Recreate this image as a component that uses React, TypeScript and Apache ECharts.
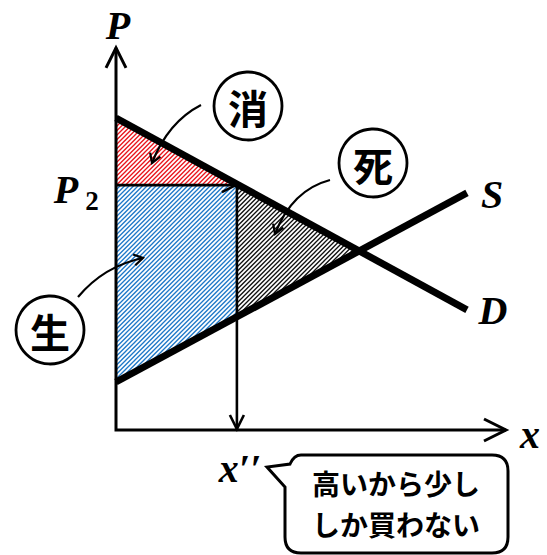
import { useEffect, useRef } from "react";
import * as echarts from "echarts";

// ---- data (value space: x 0..10, y 0..10) ----
const axisRangeX = [0, 10];
const axisRangeY = [0, 10];
const axisTips = [10, 9.8]; // x-axis arrow tip (x), y-axis arrow tip (y)
const demandLine = [
  [0, 8.0],
  [9.0, 3.08],
];
const supplyLine = [
  [0, 1.23],
  [9.0, 6.08],
];
const priceP2 = 6.28;
const quantityX2 = 3.1;
const supplyAtX2 = 2.9;
const equilibrium = [6.28, 4.59];
const consumerSurplus = [
  [0, 8.0],
  [0, priceP2],
  [quantityX2, priceP2],
];
const producerSurplus = [
  [0, priceP2],
  [quantityX2, priceP2],
  [quantityX2, supplyAtX2],
  [0, 1.23],
];
const deadweightLoss = [
  [quantityX2, priceP2],
  equilibrium,
  [quantityX2, supplyAtX2],
];
const regionPolys = [consumerSurplus, producerSurplus, deadweightLoss];
const regionColors = ["#e8151c", "#1f78c8", "#111111"];
const circleLabels = ["消", "死", "生"];
const bubbleLines = ["高いから少し", "しか買わない"];

const MATH_FONT = "'Liberation Serif', 'DejaVu Serif', serif";
const CJK_FONT = "'Noto Sans CJK JP', 'Noto Sans', sans-serif";

const BUBBLE_D =
  "M 290 464 Q 294 455 301 455 L 492 455 Q 508 455 508 471 L 508 537 Q 508 553 492 553 L 301 553 Q 285 553 285 537 L 285 487 L 267 467 Z";

let registered = false;
function ensureShapes() {
  if (registered) return;
  echarts.graphic.registerShape("bubble", echarts.graphic.extendPath(BUBBLE_D, {}) as any);
  registered = true;
}

function chevron(tip: number[], from: number[], back: number, side: number) {
  const dx = tip[0] - from[0];
  const dy = tip[1] - from[1];
  const len = Math.hypot(dx, dy) || 1;
  const ux = dx / len;
  const uy = dy / len;
  const bx = tip[0] - ux * back;
  const by = tip[1] - uy * back;
  return [
    [bx - uy * side, by + ux * side],
    [tip[0], tip[1]],
    [bx + uy * side, by - ux * side],
  ];
}

function makeHatch(color: string) {
  const n = 9;
  const c = document.createElement("canvas");
  c.width = n;
  c.height = n;
  const ctx = c.getContext("2d")!;
  ctx.fillStyle = "#ffffff";
  ctx.fillRect(0, 0, n, n);
  ctx.strokeStyle = color;
  ctx.lineWidth = 1.35;
  ctx.beginPath();
  for (const k of [0, 4.5, 9, 13.5, 18]) {
    ctx.moveTo(k + 2, -2);
    ctx.lineTo(k - n - 2, n + 2);
  }
  ctx.stroke();
  return { image: c.toDataURL(), repeat: "repeat", imageWidth: n, imageHeight: n };
}

function curvedArrow(start: number[], ctrl: number[], end: number[]) {
  return [
    {
      type: "bezierCurve",
      z: 100,
      shape: { x1: start[0], y1: start[1], cpx1: ctrl[0], cpy1: ctrl[1], x2: end[0], y2: end[1] },
      style: { stroke: "#000", lineWidth: 2.2, fill: "none" },
    },
    {
      type: "polyline",
      z: 100,
      shape: { points: chevron(end, ctrl, 9, 5.5) },
      style: { stroke: "#000", lineWidth: 2.2, fill: "none" },
    },
  ];
}

function circleLabel(cx: number, cy: number, text: string) {
  return [
    { type: "circle", z: 100, shape: { cx, cy, r: 34 }, style: { fill: "#fff", stroke: "#000", lineWidth: 2.8 } },
    {
      type: "text",
      z: 101,
      x: cx,
      y: cy + 1,
      style: {
        text,
        fontFamily: CJK_FONT,
        fontWeight: "bold",
        fontSize: 40,
        fill: "#000",
        align: "center",
        verticalAlign: "middle",
      },
    },
  ];
}

export default function App() {
  const ref = useRef<HTMLDivElement>(null);

  useEffect(() => {
    if (!ref.current) return;
    ensureShapes();
    const chart = echarts.init(ref.current, undefined, { renderer: "svg" });
    const patterns = regionColors.map(makeHatch);

    const mathText = (x: number, y: number, text: string, size = 40, italic = true) => ({
      type: "text",
      x,
      y,
      style: {
        text,
        fontFamily: MATH_FONT,
        fontStyle: italic ? "italic" : "normal",
        fontWeight: "bold",
        fontSize: size,
        fill: "#000",
        align: "center",
        verticalAlign: "middle",
      },
    });

    const option: any = {
      animation: false,
      grid: { left: 116, top: 40, width: 390, height: 390 },
      xAxis: { type: "value", min: axisRangeX[0], max: axisRangeX[1], show: false },
      yAxis: { type: "value", min: axisRangeY[0], max: axisRangeY[1], show: false },
      series: [
        {
          name: "regions",
          type: "custom",
          clip: false,
          z: 1,
          data: regionPolys.map((p) => p[0]),
          renderItem: (params: any, api: any) => {
            const poly = regionPolys[params.dataIndex];
            return {
              type: "polygon",
              shape: { points: poly.map((p) => api.coord(p)) },
              style: { fill: patterns[params.dataIndex], stroke: "none" },
            };
          },
        },
        {
          name: "guides",
          type: "custom",
          clip: false,
          z: 2,
          data: [[quantityX2, priceP2]],
          renderItem: (_p: any, api: any) => {
            const pY = api.coord([0, priceP2]);
            const pCorner = api.coord([quantityX2, priceP2]);
            const pBase = api.coord([quantityX2, 0]);
            const st = { stroke: "#000", lineWidth: 2.6, fill: "none" };
            return {
              type: "group",
              children: [
                { type: "line", shape: { x1: pY[0], y1: pY[1], x2: pCorner[0] - 1, y2: pCorner[1] }, style: st },
                { type: "polyline", shape: { points: chevron([pCorner[0] - 1, pCorner[1]], pY, 14, 7) }, style: st },
                { type: "line", shape: { x1: pCorner[0], y1: pCorner[1], x2: pBase[0], y2: pBase[1] - 1 }, style: st },
                { type: "polyline", shape: { points: chevron([pBase[0], pBase[1] - 1], pCorner, 14, 7) }, style: st },
              ],
            };
          },
        },
        {
          name: "D",
          type: "line",
          z: 3,
          data: demandLine,
          symbol: "none",
          lineStyle: { color: "#000", width: 7 },
        },
        {
          name: "S",
          type: "line",
          z: 3,
          data: supplyLine,
          symbol: "none",
          lineStyle: { color: "#000", width: 7 },
        },
        {
          name: "axes",
          type: "custom",
          clip: false,
          z: 4,
          data: [[0, 0]],
          renderItem: (_p: any, api: any) => {
            const o = api.coord([0, 0]);
            const xt = api.coord([axisTips[0], 0]);
            const yt = api.coord([0, axisTips[1]]);
            const st = { stroke: "#000", lineWidth: 3, fill: "none", lineJoin: "miter" };
            return {
              type: "group",
              children: [
                { type: "polyline", shape: { points: [yt, o, xt] }, style: st },
                { type: "polyline", shape: { points: chevron(xt, o, 22, 11) }, style: st },
                { type: "polyline", shape: { points: chevron(yt, o, 20, 10) }, style: st },
              ],
            };
          },
        },
        {
          name: "labels",
          type: "custom",
          clip: false,
          z: 5,
          data: [[0, 0]],
          renderItem: (_p: any, api: any) => {
            const yt = api.coord([0, axisTips[1]]);
            const xt = api.coord([axisTips[0], 0]);
            const p2 = api.coord([0, priceP2]);
            const q2 = api.coord([quantityX2, 0]);
            const sEnd = api.coord(supplyLine[1]);
            const dEnd = api.coord(demandLine[1]);
            return {
              type: "group",
              children: [
                mathText(yt[0] + 2, yt[1] - 22, "P"),
                mathText(p2[0] - 50, p2[1] + 4, "P"),
                mathText(p2[0] - 24, p2[1] + 16, "2", 27, false),
                mathText(sEnd[0] + 25, sEnd[1] + 2, "S"),
                mathText(dEnd[0] + 26, dEnd[1] + 1, "D"),
                mathText(xt[0] + 24, xt[1] + 4, "x"),
                mathText(q2[0] + 3, q2[1] + 38, "x′′"),
              ],
            };
          },
        },
      ],
      graphic: [
        ...curvedArrow([201, 105], [168, 122], [152, 163]),
        ...curvedArrow([330, 180], [292, 190], [275, 234]),
        ...curvedArrow([78, 297], [104, 266], [143, 258]),
        ...circleLabel(248, 106, circleLabels[0]),
        ...circleLabel(373, 163, circleLabels[1]),
        ...circleLabel(50, 330, circleLabels[2]),
        {
          type: "bubble",
          z: 100,
          x: 0,
          y: 0,
          style: { fill: "#fff", stroke: "#000", lineWidth: 3, lineJoin: "miter" },
        },
        ...bubbleLines.map((t, i) => ({
          type: "text",
          z: 101,
          x: 396,
          y: 482.5 + i * 41,
          style: {
            text: t,
            fontFamily: CJK_FONT,
            fontWeight: "bold",
            fontSize: 28,
            fill: "#000",
            align: "center",
            verticalAlign: "middle",
          },
        })),
      ],
    };
    chart.setOption(option);
    return () => chart.dispose();
  }, []);

  return (
    <div
      ref={ref}
      style={{ position: "absolute", left: 0, top: 0, width: 547, height: 555, background: "#fff" }}
    />
  );
}
